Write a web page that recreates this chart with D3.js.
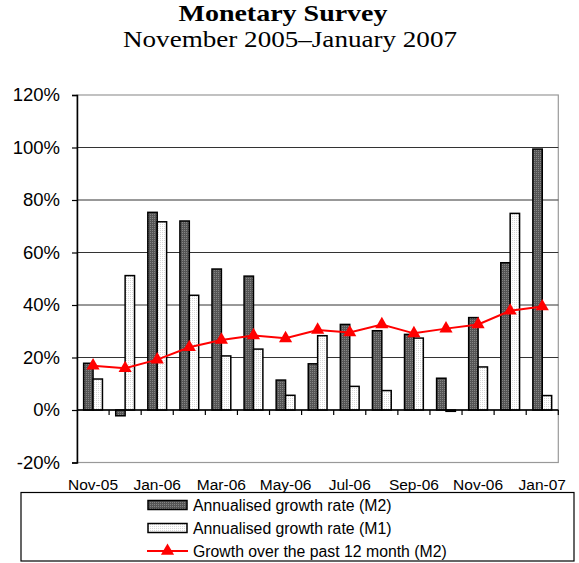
<!DOCTYPE html>
<html><head><meta charset="utf-8">
<script src="https://cdn.jsdelivr.net/npm/d3@7"></script>
<style>body{margin:0;background:#fff}svg{display:block}</style>
</head><body>
<script>
const months = ["Nov-05","Dec-05","Jan-06","Feb-06","Mar-06","Apr-06","May-06","Jun-06","Jul-06","Aug-06","Sep-06","Oct-06","Nov-06","Dec-06","Jan-07"];
const m2Annual = [17.8,-2.2,75.3,72.0,53.7,51.0,11.4,17.6,32.6,30.2,28.8,12.1,35.2,56.1,99.4];
const m1Annual = [11.8,51.2,71.7,43.7,20.6,23.2,5.6,28.3,9.0,7.4,27.4,-0.5,16.4,74.9,5.5];
const m2Yoy = [16.9,15.9,19.2,23.9,26.7,28.4,27.3,30.5,29.5,32.6,29.2,31.0,32.6,37.8,39.4];
const yTicks = [-20,0,20,40,60,80,100,120];
const seriesNames = ["Annualised growth rate (M2)","Annualised growth rate (M1)","Growth over the past 12 month (M2)"];

const W=579,H=563;
const svg=d3.select("body").append("svg").attr("width",W).attr("height",H);
const defs=svg.append("defs");
const p1=defs.append("pattern").attr("id","pM2").attr("patternUnits","userSpaceOnUse").attr("width",2).attr("height",2);
p1.append("rect").attr("width",2).attr("height",2).attr("fill","#555");
p1.append("rect").attr("width",1).attr("height",1).attr("fill","#858585");
const p2=defs.append("pattern").attr("id","pM1").attr("patternUnits","userSpaceOnUse").attr("width",2).attr("height",2);
p2.append("rect").attr("width",2).attr("height",2).attr("fill","#ffffff");
p2.append("rect").attr("width",1).attr("height",1).attr("fill","#d8d8d8");

const L=77,R=558.3,T=95,B=462.5;
const x=d3.scaleBand().domain(months).range([L,R]);
const y=d3.scaleLinear().domain([-20,120]).range([B,T]);

// title
svg.append("text").attr("x",283).attr("y",21).attr("text-anchor","middle")
  .attr("font-family","Liberation Serif, Times New Roman, serif").attr("font-weight","bold").attr("font-size",24)
  .attr("textLength",209).attr("lengthAdjust","spacingAndGlyphs").text("Monetary Survey");
svg.append("text").attr("x",290).attr("y",47).attr("text-anchor","middle")
  .attr("font-family","Liberation Serif, Times New Roman, serif").attr("font-size",24)
  .attr("textLength",334).attr("lengthAdjust","spacingAndGlyphs").text("November 2005\u2013January 2007");

// plot border (gray)
svg.append("rect").attr("x",L).attr("y",T).attr("width",R-L).attr("height",B-T).attr("fill","none").attr("stroke","#999").attr("stroke-width",1.2);

// gridlines
const grid=svg.append("g");
yTicks.filter(v=>v!==-20 && v!==120).forEach(v=>{
  grid.append("line").attr("x1",L).attr("x2",R).attr("y1",y(v)).attr("y2",y(v)).attr("stroke","#333").attr("stroke-width",1);
});

// y axis
const yAxis=d3.axisLeft(y).tickValues(yTicks).tickFormat(d=>d+"%").tickSize(5).tickPadding(12);
const gy=svg.append("g").attr("transform",`translate(${L},0)`).call(yAxis);
gy.select(".domain").attr("stroke","#000").attr("stroke-width",1.5);
gy.selectAll(".tick line").attr("stroke","#000").attr("stroke-width",1.2);
gy.selectAll("text").attr("font-family","Liberation Sans, Arial, sans-serif").attr("font-size",18.5).attr("fill","#000");

// bars
const bw=9.4;
const bars=svg.append("g");
bars.selectAll("rect.m2").data(months).join("rect").attr("class","m2")
  .attr("x",d=>x(d)+x.bandwidth()/2-bw).attr("width",bw)
  .attr("y",(d,i)=>y(Math.max(0,m2Annual[i]))).attr("height",(d,i)=>Math.abs(y(m2Annual[i])-y(0)))
  .attr("fill","url(#pM2)").attr("stroke","#000").attr("stroke-width",1.5);
bars.selectAll("rect.m1").data(months).join("rect").attr("class","m1")
  .attr("x",d=>x(d)+x.bandwidth()/2).attr("width",bw)
  .attr("y",(d,i)=>y(Math.max(0,m1Annual[i]))).attr("height",(d,i)=>Math.abs(y(m1Annual[i])-y(0)))
  .attr("fill","url(#pM1)").attr("stroke","#000").attr("stroke-width",1.5);

// x axis at zero
const gx=svg.append("g").attr("transform",`translate(0,${y(0)})`);
gx.append("line").attr("x1",L).attr("x2",R).attr("stroke","#000").attr("stroke-width",1.5);
months.forEach((m,i)=>{
  const xx=x(m)+x.bandwidth();
  gx.append("line").attr("x1",xx).attr("x2",xx).attr("y1",0).attr("y2",5).attr("stroke","#000").attr("stroke-width",1.2);
});
// x labels
svg.append("g").selectAll("text").data(months.filter((d,i)=>i%2===0)).join("text")
  .attr("x",d=>x(d)+x.bandwidth()/2).attr("y",490).attr("text-anchor","middle")
  .attr("font-family","Liberation Sans, Arial, sans-serif").attr("font-size",15.5).text(d=>d);

// line
const line=d3.line().x((d,i)=>x(months[i])+x.bandwidth()/2).y(d=>y(d));
svg.append("path").datum(m2Yoy).attr("d",line).attr("fill","none").attr("stroke","#ff0000").attr("stroke-width",2);
const tri=d3.symbol().type(d3.symbolTriangle).size(75);
svg.append("g").selectAll("path").data(m2Yoy).join("path")
  .attr("transform",(d,i)=>`translate(${x(months[i])+x.bandwidth()/2},${y(d)})`)
  .attr("d",tri).attr("fill","#ff0000");

// legend
const lg=svg.append("g");
lg.append("rect").attr("x",21).attr("y",492.5).attr("width",553).attr("height",68.5).attr("fill","#fff").attr("stroke","#000").attr("stroke-width",1.2);
const rows=[505,528,551];
lg.append("rect").attr("x",148).attr("y",rows[0]-4.5).attr("width",39).attr("height",9).attr("fill","url(#pM2)").attr("stroke","#000").attr("stroke-width",1.5);
lg.append("rect").attr("x",148).attr("y",rows[1]-4.5).attr("width",39).attr("height",9).attr("fill","url(#pM1)").attr("stroke","#000").attr("stroke-width",1.5);
lg.append("line").attr("x1",147).attr("x2",188).attr("y1",rows[2]).attr("y2",rows[2]).attr("stroke","#ff0000").attr("stroke-width",2);
lg.append("path").attr("transform",`translate(167.5,${rows[2]})`).attr("d",tri).attr("fill","#ff0000");
seriesNames.forEach((s,i)=>{
  lg.append("text").attr("x",193).attr("y",rows[i]+5.5).attr("font-family","Liberation Sans, Arial, sans-serif").attr("font-size",15.8).text(s);
});
</script>
</body></html>
